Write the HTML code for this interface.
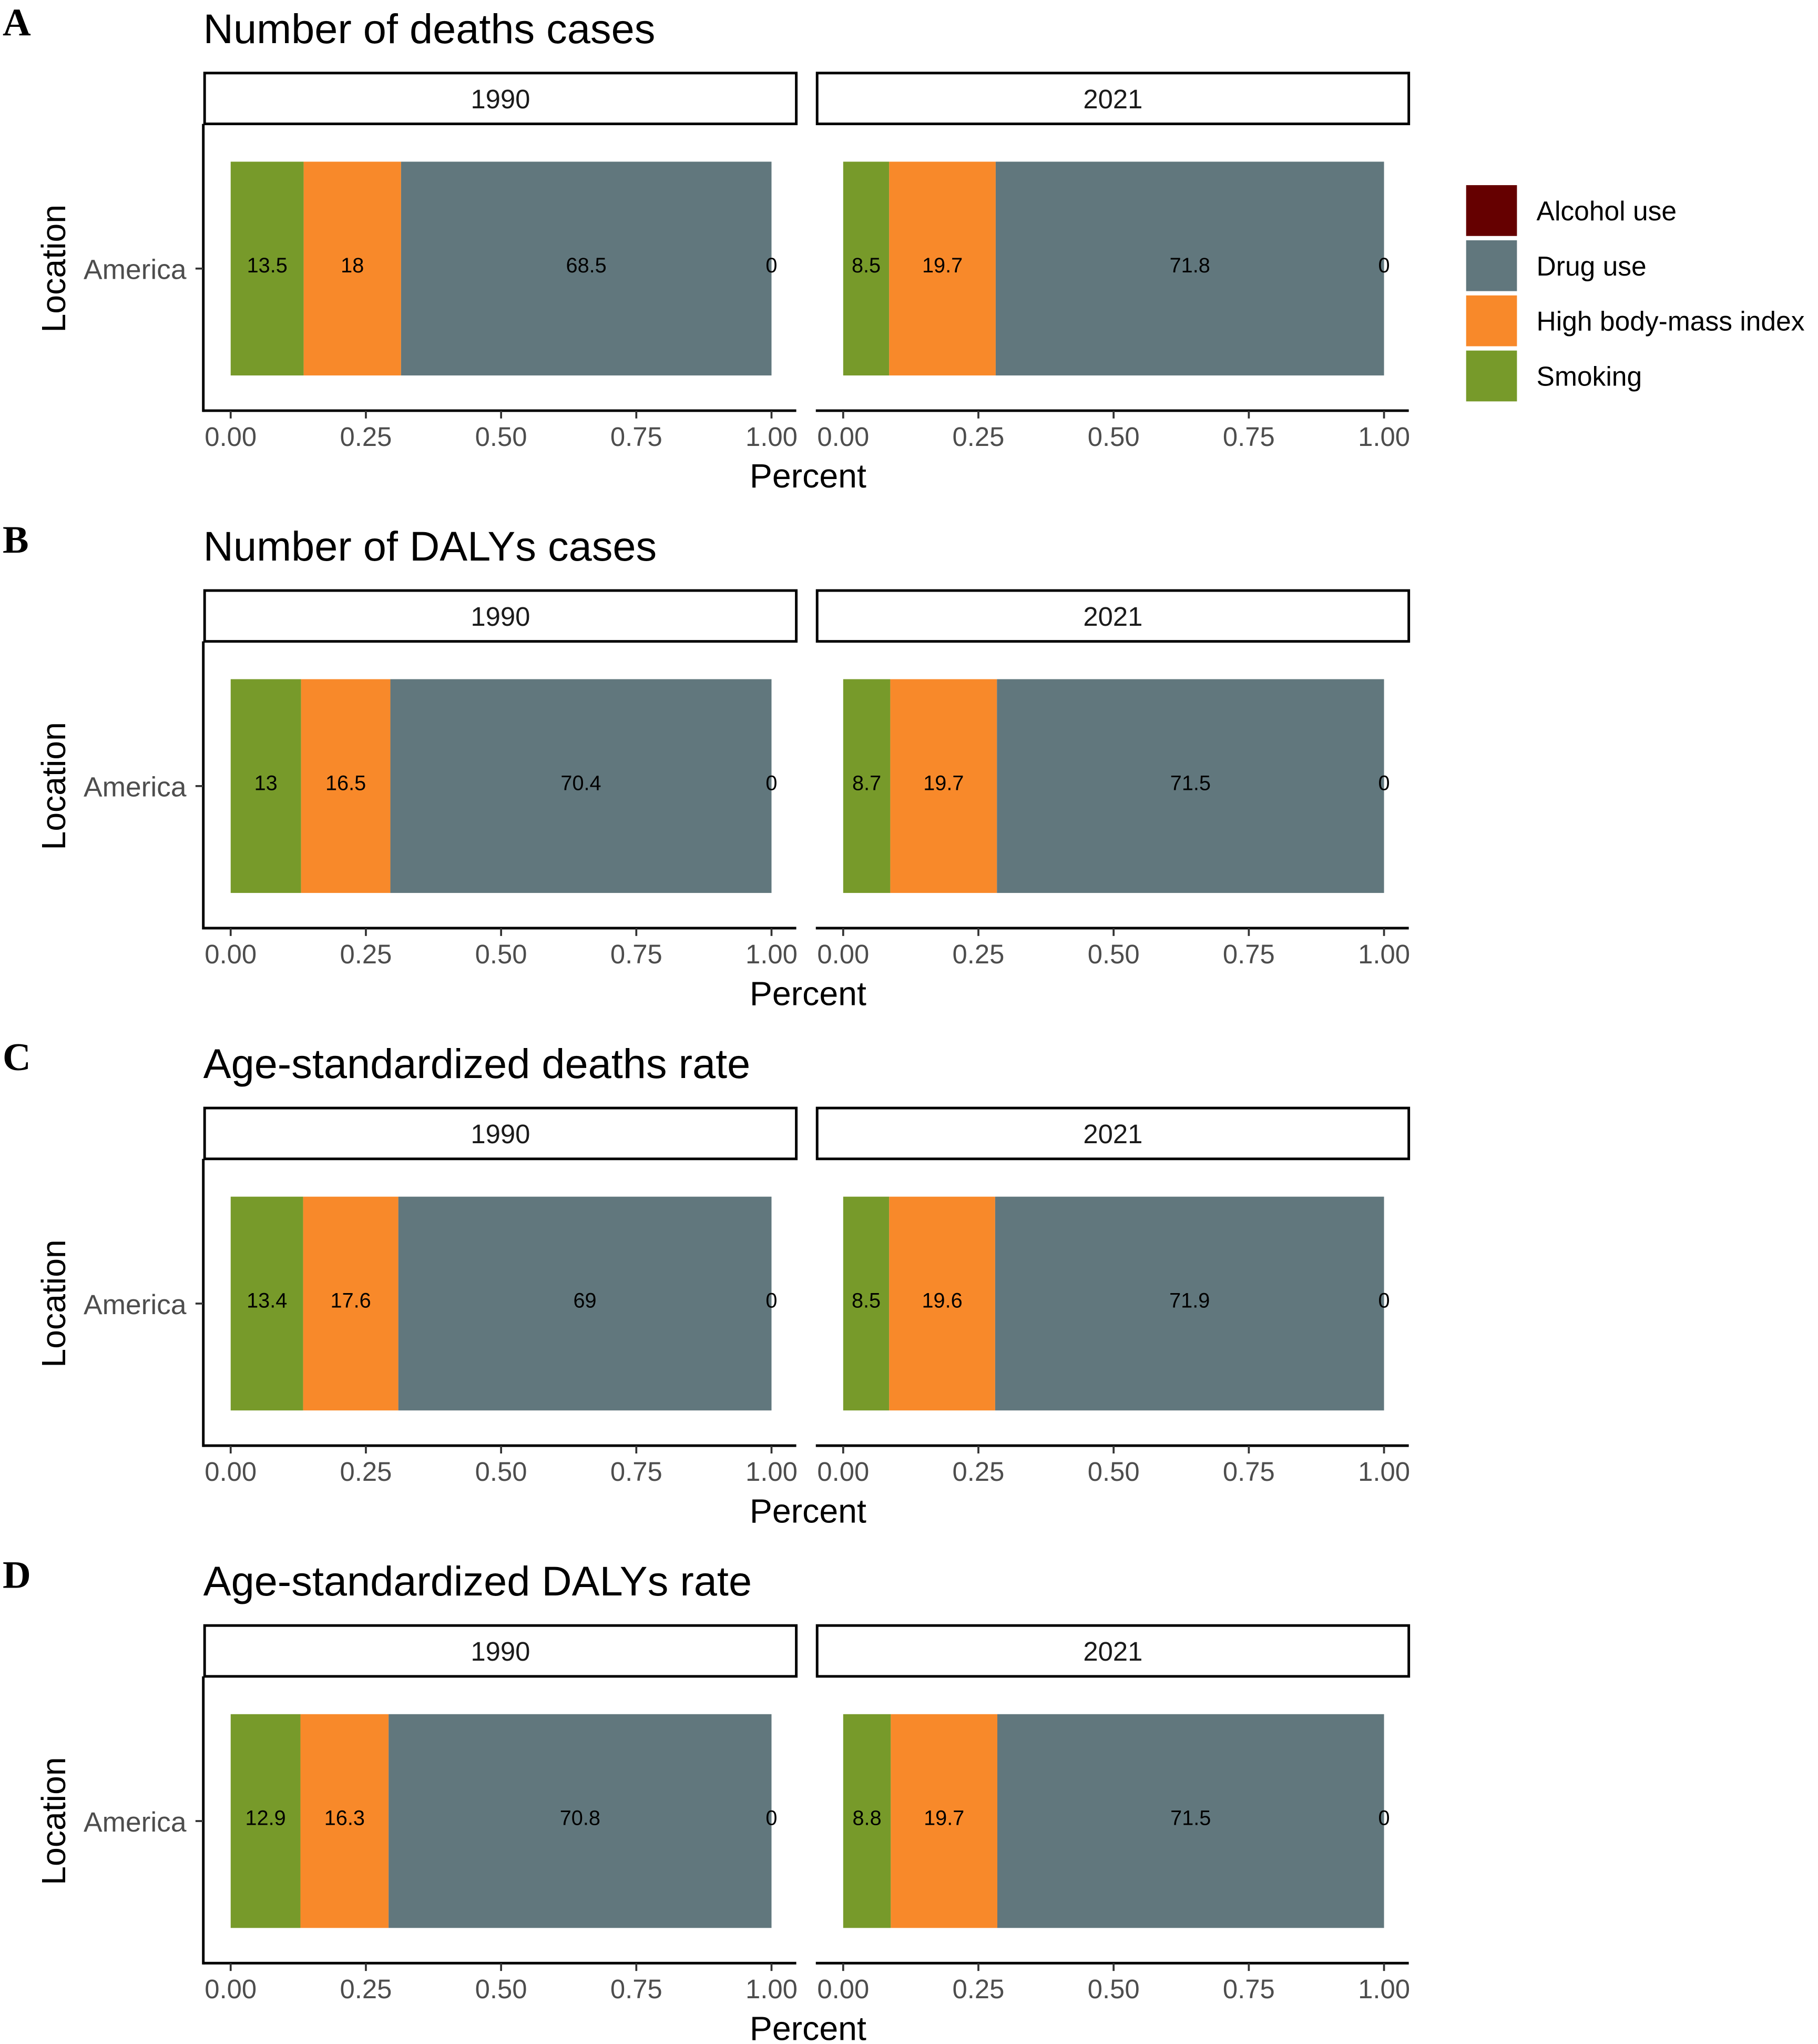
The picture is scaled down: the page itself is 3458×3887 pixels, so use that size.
<!DOCTYPE html>
<html><head><meta charset="utf-8">
<style>
html,body{margin:0;padding:0;background:#fff;}
svg{display:block;}
text{font-family:"Liberation Sans",sans-serif;}
</style></head>
<body>
<svg id="chart" width="3458" height="3887" viewBox="0 0 1395 1568" xmlns="http://www.w3.org/2000/svg">
<g id="legend"></g>
</svg>
<script>
const panelTitles = ["Number of deaths cases","Number of DALYs cases","Age-standardized deaths rate","Age-standardized DALYs rate"];
const panelLetters = ["A","B","C","D"];
const years = ["1990","2021"];
const smoking = [[13.5,8.5],[13,8.7],[13.4,8.5],[12.9,8.8]];
const bmi = [[18,19.7],[16.5,19.7],[17.6,19.6],[16.3,19.7]];
const drug = [[68.5,71.8],[70.4,71.5],[69,71.9],[70.8,71.5]];
const alcohol = [[0,0],[0,0],[0,0],[0,0]];
const ticks = [0,0.25,0.5,0.75,1];
const tickLabels = ["0.00","0.25","0.50","0.75","1.00"];
const legendLabels = ["Alcohol use","Drug use","High body-mass index","Smoking"];
const colors = {alcohol:"#650000",drug:"#61777D",bmi:"#F8892A",smoking:"#779A2A"};

const svg = document.getElementById('chart');
const NS = "http://www.w3.org/2000/svg";
function el(tag, attrs, parent, txt){
  const e = document.createElementNS(NS, tag);
  for (const k in attrs) e.setAttribute(k, attrs[k]);
  if (txt !== undefined) e.textContent = txt;
  (parent||svg).appendChild(e);
  return e;
}
const facetX0 = [177, 647];
const facetW = 415;
function xs(f, v){ return facetX0[f] + v*facetW; }

panelTitles.forEach((title, p) => {
  const oy = p*397;
  const g = el('g', {});
  
  
  const L = el('text', {x:2, y:oy+27, 'font-weight':'bold', 'font-size':30, fill:'#000', style:'font-family:"Liberation Serif",serif'}, g, panelLetters[p]);
  
  
  const T = el('text', {x:156, y:oy+33, 'font-size':32, fill:'#000'}, g, title);
  
  
  const yl = el('text', {x:0, y:0, 'font-size':26, fill:'#000', 'text-anchor':'middle', transform:`translate(50,${oy+206}) rotate(-90)`}, g, 'Location');
  
  
  const am = el('text', {x:143, y:oy+214, 'font-size':21.5, fill:'#4d4d4d', 'text-anchor':'end'}, g, 'America');
  
  
  const xt = el('text', {x:620, y:oy+374, 'font-size':26, fill:'#000', 'text-anchor':'middle'}, g, 'Percent');
  
  

  years.forEach((yr, f) => {
    const sx = f===0 ? 157 : 627;
    const s = el('rect', {x:sx, y:oy+56, width:454, height:39, fill:'#fff', stroke:'#000', 'stroke-width':2}, g);
    
    
    const st = el('text', {x:sx+227, y:oy+83, 'font-size':20.5, fill:'#1a1a1a', 'text-anchor':'middle'}, g, yr);
    
    
    const ax = el('line', {x1:sx-1, x2:sx+454, y1:oy+315, y2:oy+315, stroke:'#000', 'stroke-width':2}, g);
    
    
    if (f===0){
      const ay = el('line', {x1:156, x2:156, y1:oy+95, y2:oy+316, stroke:'#000', 'stroke-width':2}, g);
      
      
      const tk = el('line', {x1:150, x2:156, y1:oy+206, y2:oy+206, stroke:'#333', 'stroke-width':1.5}, g);
      
      
    }
    ticks.forEach((t, i) => {
      const x = xs(f, t);
      const tl = el('line', {x1:x, x2:x, y1:oy+315, y2:oy+321, stroke:'#333', 'stroke-width':1.5}, g);
      
      
      const tt = el('text', {x:x, y:oy+342, 'font-size':20.5, fill:'#4d4d4d', 'text-anchor':'middle'}, g, tickLabels[i]);
      
      
    });
    const segs = [
      ['smoking', smoking[p][f]],
      ['bmi', bmi[p][f]],
      ['drug', drug[p][f]],
      ['alcohol', alcohol[p][f]]
    ];
    const total = segs.reduce((a,s)=>a+s[1],0);
    let cum = 0;
    segs.forEach(([k, v]) => {
      const a = cum/total, b = (cum+v)/total;
      cum += v;
      if (v>0){
        const r = el('rect', {x:xs(f,a), y:oy+124, width:xs(f,b)-xs(f,a), height:164, fill:colors[k]}, g);
        
        
      }
      const lb = el('text', {x:(xs(f,a)+xs(f,b))/2, y:oy+209, 'font-size':16, fill:'#000', 'text-anchor':'middle'}, g, String(v));
      
      
    });
  });
});

const lg = document.getElementById('legend');
const lcol = [colors.alcohol, colors.drug, colors.bmi, colors.smoking];
legendLabels.forEach((lab, i) => {
  const y = 142 + i*42.3;
  const k = el('rect', {x:1125, y:y, width:39, height:39, fill:lcol[i]}, lg);
  
  
  const t = el('text', {x:1179, y:y+27, 'font-size':20.8, fill:'#000'}, lg, lab);
  
  
});
</script>
</body></html>
